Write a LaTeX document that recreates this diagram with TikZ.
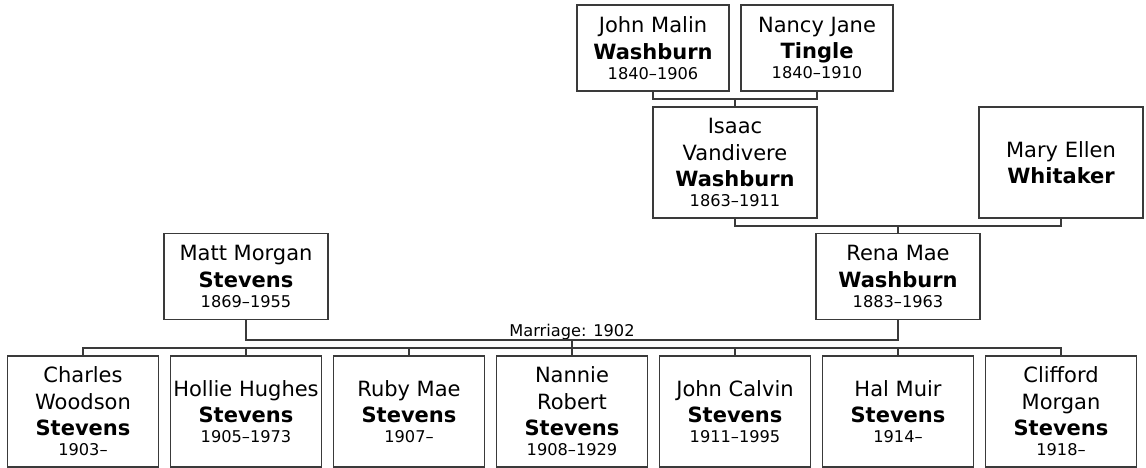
\documentclass[tikz,border=0pt]{standalone}
\usepackage{fontspec}
\setmainfont{DejaVu Sans}
\definecolor{linec}{HTML}{3A3A3A}
\newcommand\dfont{\fontsize{16.2}{20}\selectfont}
\begin{document}
\begin{tikzpicture}[x=1pt,y=-1pt,
  person/.style={draw=linec, line width=1.3pt, fill=white, align=center, inner sep=0pt,
    font=\fontsize{21}{26.5}\selectfont, text=black},
  topbox/.style={person, minimum width=152pt, minimum height=86pt},
  midbox/.style={person, minimum width=164pt, minimum height=111pt},
  parbox/.style={person, minimum width=164pt, minimum height=86pt},
  kidbox/.style={person, minimum width=151pt, minimum height=111pt},
  conn/.style={draw=linec, line width=1.3pt}]
\fill[white] (0,0) rectangle (1146,468);
\useasboundingbox (0,0) rectangle (1146,468);
% grandparents
\node[topbox] (jmw) at (653,48) {John Malin\\\textbf{Washburn}\\[-6.5pt]{\dfont 1840–1906}};
\node[topbox] (njt) at (817,48) {Nancy Jane\\\textbf{Tingle}\\[-6.5pt]{\dfont 1840–1910}};
% parents of Rena
\node[midbox] (ivw) at (735,162.5) {Isaac\\Vandivere\\\textbf{Washburn}\\[-6.5pt]{\dfont 1863–1911}};
\node[midbox] (mew) at (1061,162.5) {Mary Ellen\\\textbf{Whitaker}};
% couple
\node[parbox] (mms) at (246,276.5) {Matt Morgan\\\textbf{Stevens}\\[-6.5pt]{\dfont 1869–1955}};
\node[parbox] (rmw) at (898,276.5) {Rena Mae\\\textbf{Washburn}\\[-6.5pt]{\dfont 1883–1963}};
% children
\node[kidbox] (k1) at (83,411.5) {Charles\\Woodson\\\textbf{Stevens}\\[-6.5pt]{\dfont 1903–}};
\node[kidbox] (k2) at (246,411.5) {Hollie Hughes\\\textbf{Stevens}\\[-6.5pt]{\dfont 1905–1973}};
\node[kidbox] (k3) at (409,411.5) {Ruby Mae\\\textbf{Stevens}\\[-6.5pt]{\dfont 1907–}};
\node[kidbox] (k4) at (572,411.5) {Nannie\\Robert\\\textbf{Stevens}\\[-6.5pt]{\dfont 1908–1929}};
\node[kidbox] (k5) at (735,411.5) {John Calvin\\\textbf{Stevens}\\[-6.5pt]{\dfont 1911–1995}};
\node[kidbox] (k6) at (898,411.5) {Hal Muir\\\textbf{Stevens}\\[-6.5pt]{\dfont 1914–}};
\node[kidbox] (k7) at (1061,411.5) {Clifford\\Morgan\\\textbf{Stevens}\\[-6.5pt]{\dfont 1918–}};
% marriage label
\node[font=\dfont, anchor=base, inner sep=0pt] (mar) at (572,336) {Marriage: 1902};
% junction coordinates
\coordinate (j1) at (735,99);
\coordinate (j2) at (898,226);
\coordinate (j3) at (572,340);
\coordinate (j4) at (572,348);
% connectors
\draw[conn] (jmw.south) |- (j1) -| (njt.south);
\draw[conn] (j1) -- (ivw.north);
\draw[conn] (ivw.south) |- (j2) -| (mew.south);
\draw[conn] (j2) -- (rmw.north);
\draw[conn] (mms.south) |- (j3) -| (rmw.south);
\draw[conn] (j3) -- (j4);
\draw[conn] (k1.north) |- (j4) -| (k7.north);
\foreach \k in {k2,k3,k4,k5,k6}{\draw[conn] (\k.north) -- (\k.north |- j4);}
\end{tikzpicture}
\end{document}
